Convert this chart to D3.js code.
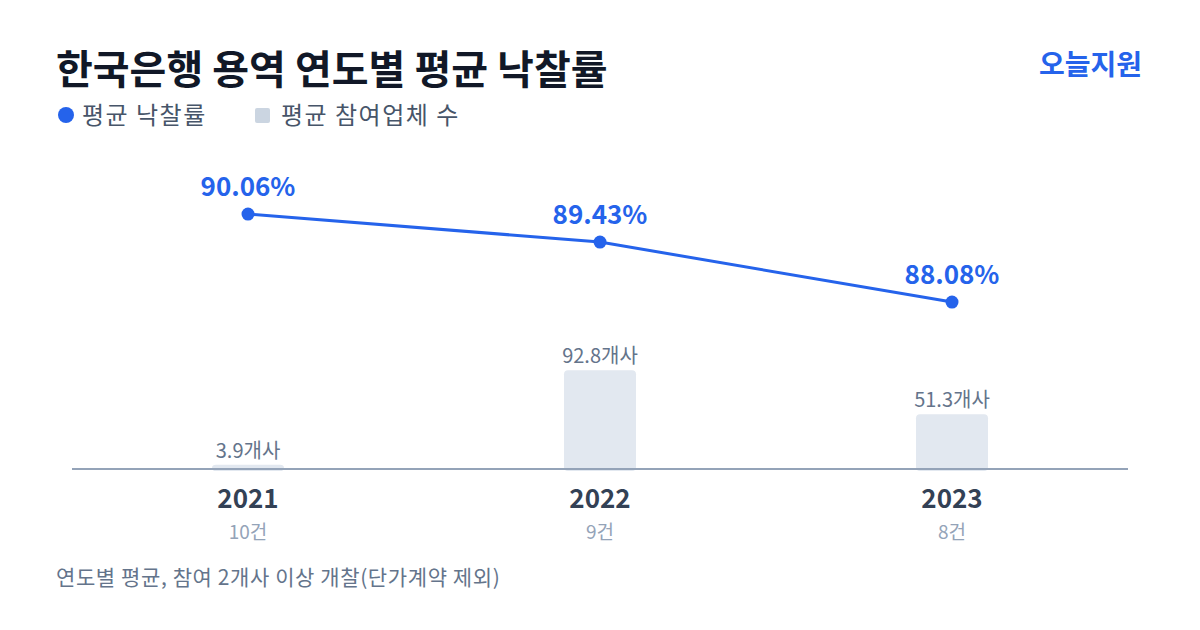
<!DOCTYPE html>
<html>
<head>
<meta charset="utf-8">
<script src="https://cdn.jsdelivr.net/npm/d3@7"></script>
<style>
  body { margin: 0; background: #fff; }
  svg { display: block; font-family: "Noto Sans CJK KR", "Noto Sans", sans-serif; }
</style>
</head>
<body>
<div id="chart"></div>
<script>
var years = ["2021", "2022", "2023"]
var rates = [90.06, 89.43, 88.08]
var firms = [3.9, 92.8, 51.3]
var counts = [10, 9, 8]

var width = 1200, height = 630

var svg = d3.select("#chart").append("svg")
    .attr("width", width)
    .attr("height", height)

var x = d3.scaleBand()
    .domain(years)
    .range([72, 1128])

var yRate = d3.scaleLinear()
    .domain([88, 90])
    .range([305.6, 216.7])

var yFirm = d3.scaleLinear()
    .domain([0, 100])
    .range([469, 362.5])

var cx = function(d) { return x(d) + x.bandwidth() / 2 }

// title
svg.append("text")
    .attr("x", 56)
    .attr("y", 84)
    .attr("font-size", 40)
    .attr("font-weight", 700)
    .attr("fill", "#111827")
    .text("한국은행 용역 연도별 평균 낙찰률")

svg.append("text")
    .attr("x", 1142)
    .attr("y", 75)
    .attr("text-anchor", "end")
    .attr("font-size", 28)
    .attr("font-weight", 700)
    .attr("fill", "#2563eb")
    .text("오늘지원")

// legend
var legend = svg.append("g")
legend.append("circle")
    .attr("cx", 66).attr("cy", 115).attr("r", 8)
    .attr("fill", "#2563eb")
legend.append("text")
    .attr("x", 82).attr("y", 124)
    .attr("font-size", 24)
    .attr("letter-spacing", 1.5)
    .attr("fill", "#475569")
    .text("평균 낙찰률")
legend.append("rect")
    .attr("x", 255).attr("y", 108).attr("width", 15).attr("height", 15).attr("rx", 2)
    .attr("fill", "#cbd5e1")
legend.append("text")
    .attr("x", 281).attr("y", 124)
    .attr("font-size", 24)
    .attr("letter-spacing", 1.5)
    .attr("fill", "#475569")
    .text("평균 참여업체 수")

// bars
var barW = 72
svg.append("g")
  .selectAll("rect")
    .data(years)
  .enter().append("rect")
    .attr("x", function(d) { return cx(d) - barW / 2 })
    .attr("y", function(d, i) { return yFirm(firms[i]) })
    .attr("width", barW)
    .attr("height", function(d, i) { return yFirm(0) - yFirm(firms[i]) + 2 })
    .attr("rx", 4)
    .attr("fill", "#e2e8f0")

svg.append("g")
  .selectAll("text")
    .data(years)
  .enter().append("text")
    .attr("x", cx)
    .attr("y", function(d, i) { return yFirm(firms[i]) - 7 })
    .attr("text-anchor", "middle")
    .attr("font-size", 20)
    .attr("fill", "#64748b")
    .text(function(d, i) { return firms[i] + "개사" })

// baseline
svg.append("line")
    .attr("x1", 72).attr("x2", 1128)
    .attr("y1", yFirm(0)).attr("y2", yFirm(0))
    .attr("stroke", "#94a3b8")
    .attr("stroke-width", 2)

// year + count labels
svg.append("g")
  .selectAll("text")
    .data(years)
  .enter().append("text")
    .attr("x", cx)
    .attr("y", 508)
    .attr("text-anchor", "middle")
    .attr("font-size", 26)
    .attr("font-weight", 700)
    .attr("fill", "#334155")
    .text(function(d) { return d })

svg.append("g")
  .selectAll("text")
    .data(years)
  .enter().append("text")
    .attr("x", cx)
    .attr("y", 539)
    .attr("text-anchor", "middle")
    .attr("font-size", 19)
    .attr("fill", "#94a3b8")
    .text(function(d, i) { return counts[i] + "건" })

// rate line
var line = d3.line()
    .x(function(d, i) { return cx(years[i]) })
    .y(function(d) { return yRate(d) })

svg.append("path")
    .attr("d", line(rates))
    .attr("fill", "none")
    .attr("stroke", "#2563eb")
    .attr("stroke-width", 3)

svg.append("g")
  .selectAll("circle")
    .data(rates)
  .enter().append("circle")
    .attr("cx", function(d, i) { return cx(years[i]) })
    .attr("cy", function(d) { return yRate(d) })
    .attr("r", 6.5)
    .attr("fill", "#2563eb")

svg.append("g")
  .selectAll("text")
    .data(rates)
  .enter().append("text")
    .attr("x", function(d, i) { return cx(years[i]) })
    .attr("y", function(d) { return yRate(d) - 18 })
    .attr("text-anchor", "middle")
    .attr("font-size", 26)
    .attr("font-weight", 700)
    .attr("fill", "#2563eb")
    .text(function(d) { return d.toFixed(2) + "%" })

// footnote
svg.append("text")
    .attr("x", 56)
    .attr("y", 585)
    .attr("font-size", 21)
    .attr("letter-spacing", 0.6)
    .attr("fill", "#64748b")
    .text("연도별 평균, 참여 2개사 이상 개찰(단가계약 제외)")
</script>
</body>
</html>
